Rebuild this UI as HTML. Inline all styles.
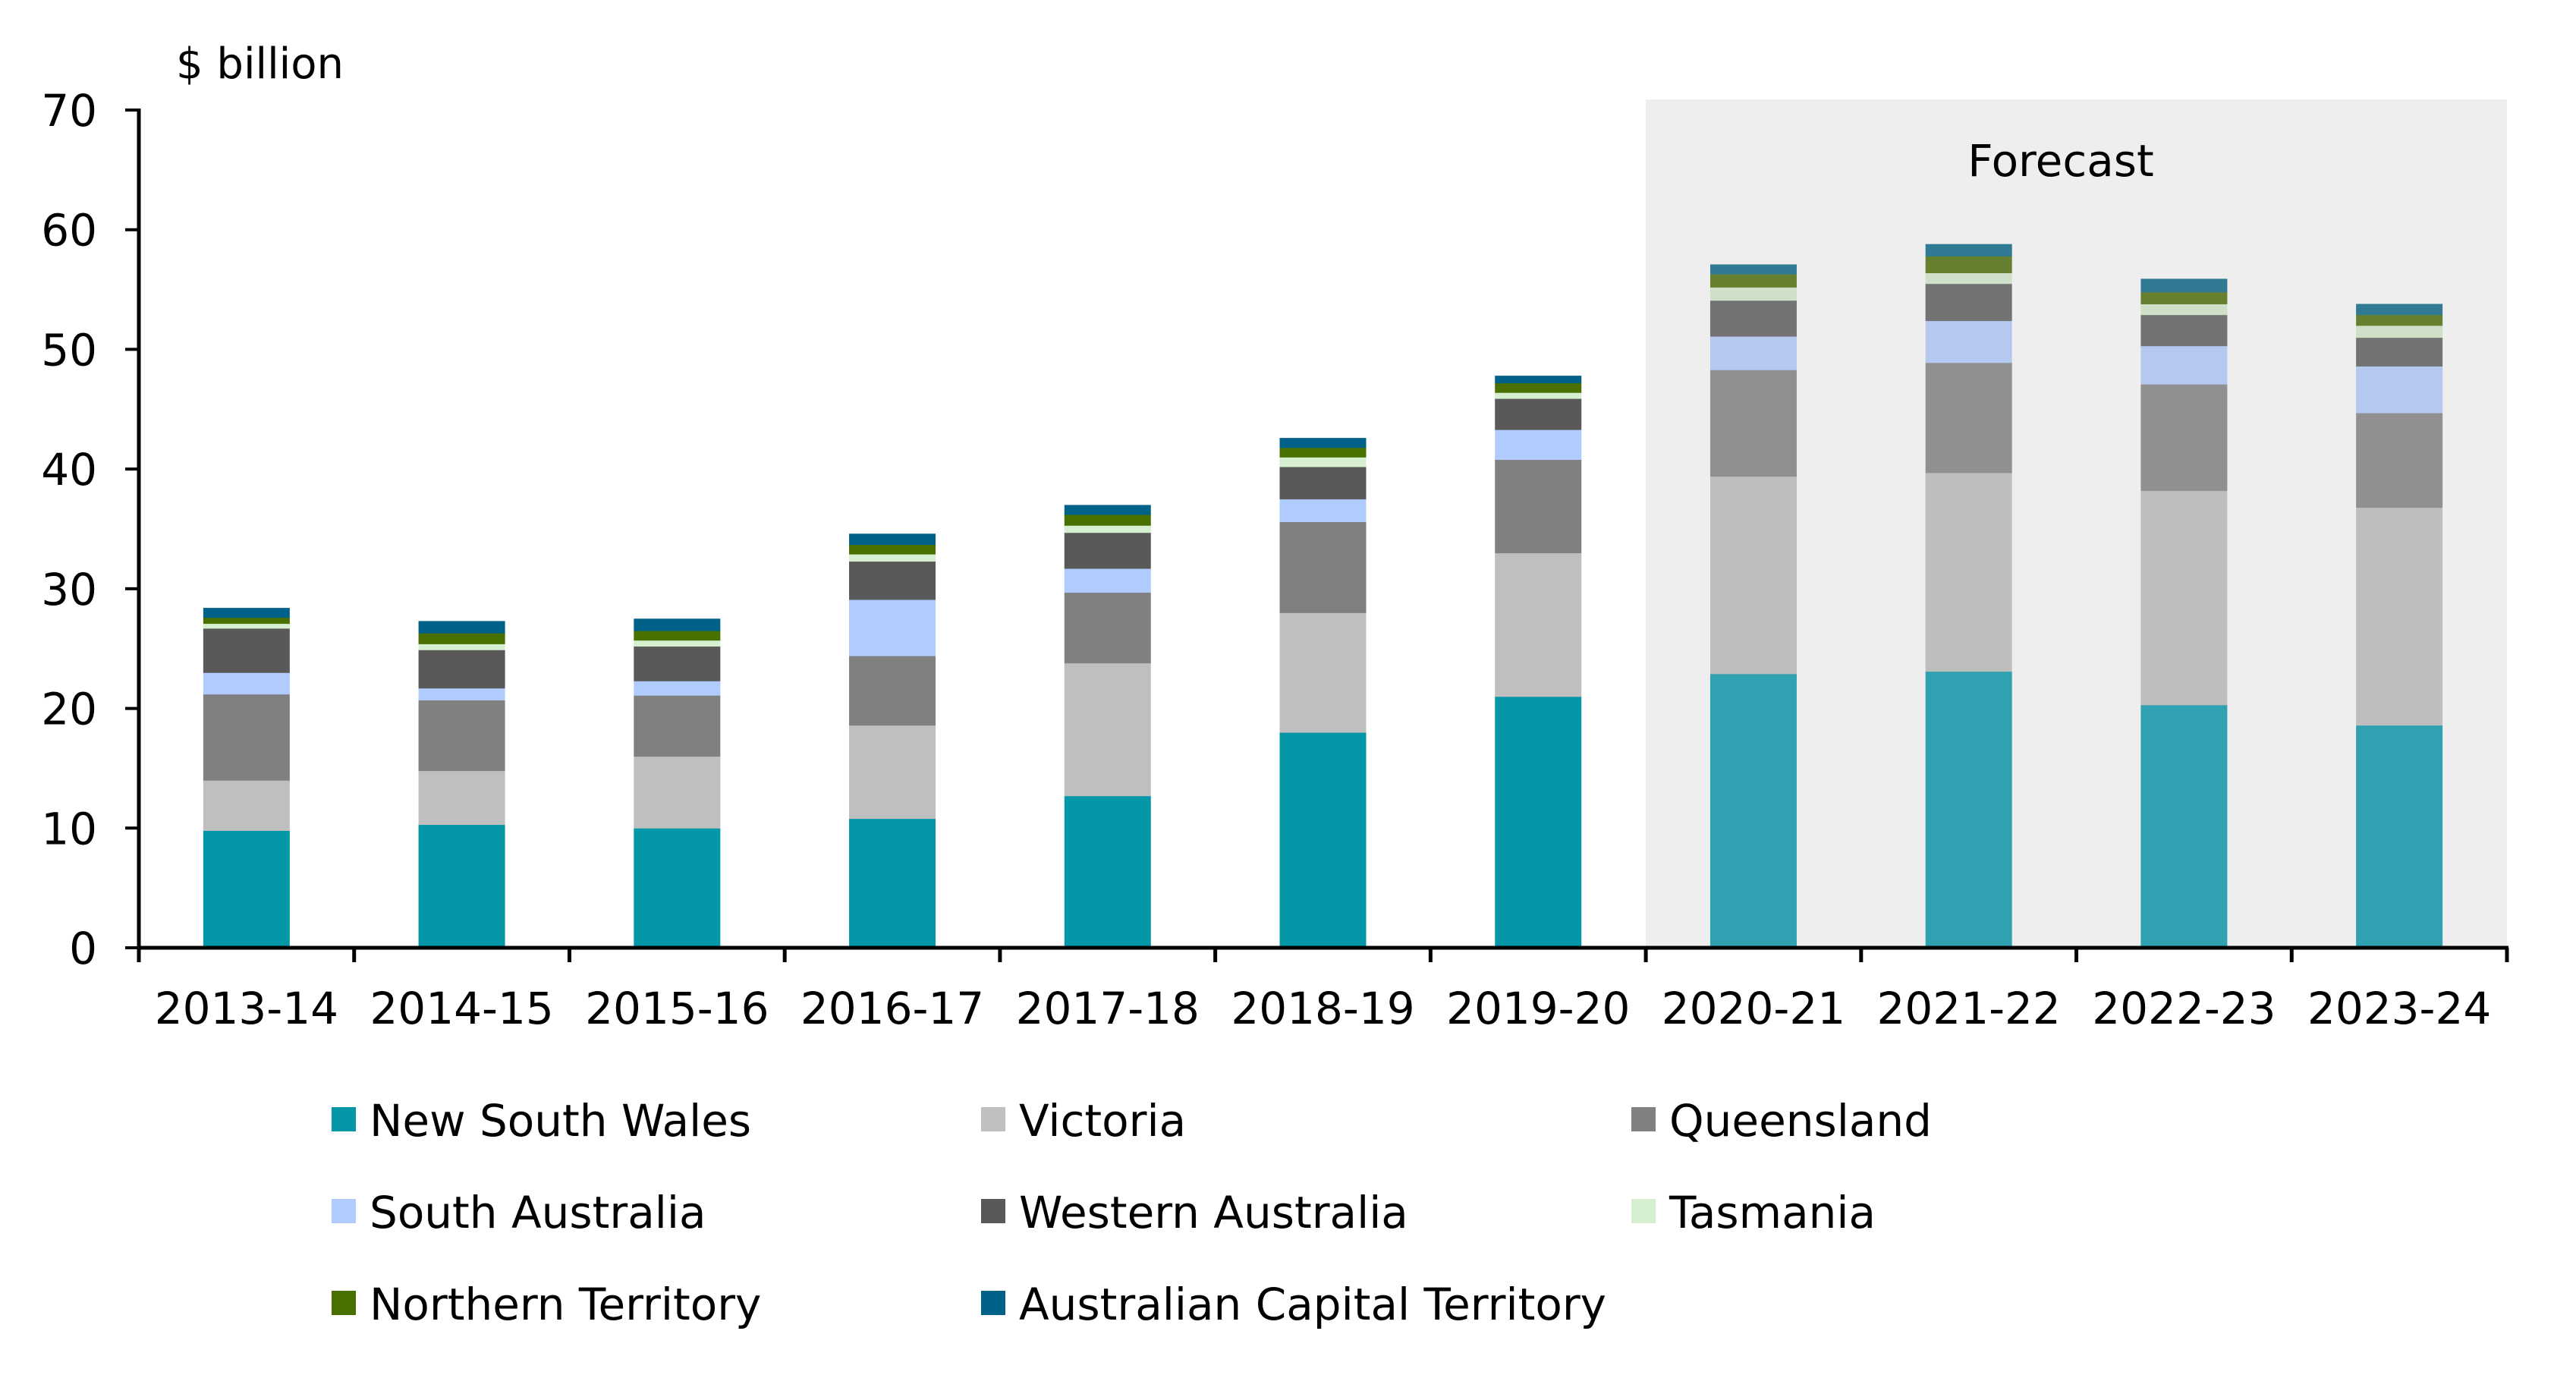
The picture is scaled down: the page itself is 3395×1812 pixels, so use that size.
<!DOCTYPE html>
<html><head><meta charset="utf-8"><style>
html,body{margin:0;padding:0;background:#fff;}
svg{display:block;font-family:"DejaVu Sans","Liberation Sans",sans-serif;}
</style></head><body>
<svg id="chart" width="3395" height="1812" viewBox="0 0 3395 1812" xmlns="http://www.w3.org/2000/svg">
<g id="shade"></g>
<g id="bars"></g>
<g id="axes"></g>
<g id="legend"></g>
</svg>
<script>
const categories = ["2013-14","2014-15","2015-16","2016-17","2017-18","2018-19","2019-20","2020-21","2021-22","2022-23","2023-24"];
const seriesNames = ["New South Wales","Victoria","Queensland","South Australia","Western Australia","Tasmania","Northern Territory","Australian Capital Territory"];
const nsw = [9.8,10.3,10.0,10.8,12.7,18.0,21.0,22.9,23.1,20.3,18.6];
const vic = [4.2,4.5,6.0,7.8,11.1,10.0,12.0,16.5,16.6,17.9,18.2];
const qld = [7.2,5.9,5.1,5.8,5.9,7.6,7.8,8.9,9.2,8.9,7.9];
const sa  = [1.8,1.0,1.2,4.7,2.0,1.9,2.5,2.8,3.5,3.2,3.9];
const wa  = [3.7,3.2,2.9,3.2,3.0,2.7,2.6,3.0,3.1,2.6,2.4];
const tas = [0.4,0.5,0.5,0.6,0.6,0.8,0.5,1.1,0.9,0.9,1.0];
const nt  = [0.5,0.9,0.8,0.8,0.9,0.8,0.8,1.1,1.4,1.0,0.9];
const act = [0.8,1.0,1.0,0.9,0.8,0.8,0.6,0.8,1.0,1.1,0.9];
const yTicks = [0,10,20,30,40,50,60,70];
const forecastStart = 7;

const series = [nsw,vic,qld,sa,wa,tas,nt,act];
const colors = ["#0397a8","#bfbfbf","#808080","#b0cbfd","#595959","#d5efd0","#4a7000","#006288"];
const fcolors = ["#30a1b0","#bebebe","#909090","#b4c8f0","#737373","#cfe0c8","#668030","#307a94"];
const keys = ["nsw","vic","qld","sa","wa","tas","nt","act"];
const NS="http://www.w3.org/2000/svg";
const X0=183, X1=3304, Y0=1249, Y70=145, YMAX=70;
const cw=(X1-X0)/categories.length, bw=114;
const y=v=>Y0-(v/YMAX)*(Y0-Y70);
const xc=i=>X0+cw*(i+0.5);
function mk(tag,attrs,parent){const e=document.createElementNS(NS,tag);for(const k in attrs)e.setAttribute(k,attrs[k]);parent.appendChild(e);return e;}

const shade=document.getElementById('shade');
const sr=mk('rect',{x:X0+cw*forecastStart,y:131,width:X1-(X0+cw*forecastStart),height:Y0-131,fill:'#eeeeee'},shade);


const ft=mk('text',{x:2716,y:232,'font-size':58,'text-anchor':'middle',fill:'#000'},shade);
ft.textContent='Forecast';



const bars=document.getElementById('bars');
categories.forEach((c,i)=>{
  let cum=0;
  const g=mk('g',{},bars);
  
  
  series.forEach((s,j)=>{
    const v=s[i];
    const r=mk('rect',{x:xc(i)-bw/2,y:y(cum+v),width:bw,height:y(cum)-y(cum+v)+0.5,fill:(i>=forecastStart?fcolors[j]:colors[j])},g);
    
    
    cum+=v;
  });
});

const axes=document.getElementById('axes');
const ya=mk('line',{x1:X0,y1:Y70-2,x2:X0,y2:Y0+19,stroke:'#000','stroke-width':5},axes);


const xa=mk('line',{x1:X0-2,y1:Y0,x2:X1+2,y2:Y0,stroke:'#000','stroke-width':5},axes);


yTicks.forEach(t=>{
  const tk=mk('line',{x1:165,y1:y(t),x2:X0,y2:y(t),stroke:'#000','stroke-width':4},axes);
  
  
  const tl=mk('text',{x:128,y:y(t)+21,'font-size':58,'text-anchor':'end',fill:'#000'},axes);
  tl.textContent=t;
  
  
});
for(let i=0;i<=categories.length;i++){
  const tk=mk('line',{x1:X0+cw*i,y1:Y0,x2:X0+cw*i,y2:1268,stroke:'#000','stroke-width':5},axes);
  
  
}
categories.forEach((c,i)=>{
  const tl=mk('text',{x:xc(i),y:1349,'font-size':58,'text-anchor':'middle',fill:'#000'},axes);
  tl.textContent=c;
  
  
});
const yt=mk('text',{x:232,y:103,'font-size':56,fill:'#000'},axes);
yt.textContent='$ billion';



const legend=document.getElementById('legend');
const colX=[437,1293,2150], rowY=[1497,1618,1739];
seriesNames.forEach((n,j)=>{
  const cx=colX[j%3], ry=rowY[Math.floor(j/3)];
  const g=mk('g',{},legend);
  
  
  mk('rect',{x:cx,y:ry-38,width:32,height:32,fill:colors[j]},g);
  const t=mk('text',{x:cx+50,y:ry,'font-size':58,fill:'#000'},g);
  t.textContent=n;
});
</script>
</body></html>
